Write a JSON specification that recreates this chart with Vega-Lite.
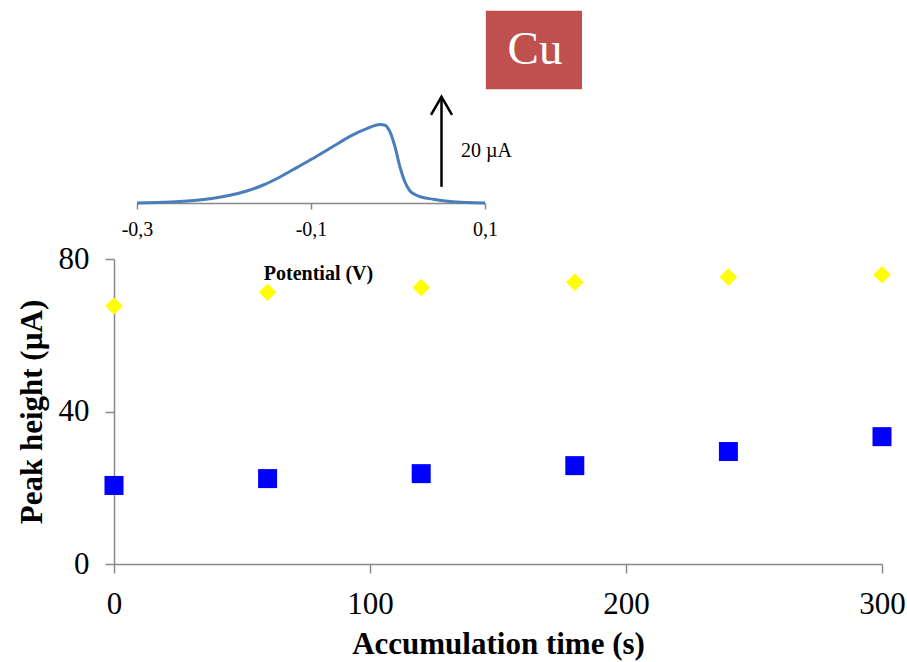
{
  "$schema": "https://vega.github.io/schema/vega-lite/v6.json",
  "width": 768,
  "height": 305,
  "autosize": {"type": "none"},
  "padding": {"left": 114, "top": 259, "right": 25, "bottom": 98},
  "background": "white",
  "config": {"view": {"stroke": null}, "font": "Liberation Serif"},
  "datasets": {
    "points": [
      {"t": 0, "squares": 20.6, "diamonds": 67.7},
      {"t": 60, "squares": 22.4, "diamonds": 71.3},
      {"t": 120, "squares": 23.7, "diamonds": 72.5},
      {"t": 180, "squares": 25.8, "diamonds": 73.9},
      {"t": 240, "squares": 29.5, "diamonds": 75.3},
      {"t": 300, "squares": 33.4, "diamonds": 75.9}
    ],
    "curve": [
      {"E": -0.3, "I": 0},
      {"E": -0.2698, "I": 0.16},
      {"E": -0.2314, "I": 0.6},
      {"E": -0.2123, "I": 1.04},
      {"E": -0.1931, "I": 1.71},
      {"E": -0.1739, "I": 2.67},
      {"E": -0.1548, "I": 4.0},
      {"E": -0.1356, "I": 5.78},
      {"E": -0.1164, "I": 7.87},
      {"E": -0.0934, "I": 10.4},
      {"E": -0.0744, "I": 12.6},
      {"E": -0.0552, "I": 14.82},
      {"E": -0.036, "I": 16.53},
      {"E": -0.0207, "I": 17.42},
      {"E": -0.0149, "I": 17.27},
      {"E": -0.0092, "I": 15.78},
      {"E": -0.0034, "I": 12.44},
      {"E": 0.0023, "I": 8.0},
      {"E": 0.008, "I": 4.67},
      {"E": 0.0138, "I": 2.67},
      {"E": 0.0215, "I": 1.71},
      {"E": 0.0406, "I": 0.82},
      {"E": 0.0598, "I": 0.31},
      {"E": 0.079, "I": 0.09},
      {"E": 0.1, "I": 0}
    ],
    "arrow": [{"E": 0.05, "I": 3.6, "I2": 23.6, "label": "20 µA", "Elabel": 0.0724, "Ilabel": 11.6}],
    "box": [{"E": 0.101, "E2": 0.2115, "I": 25.3, "I2": 42.7, "Ec": 0.1575, "Ic": 34.0, "label": "Cu"}]
  },
  "layer": [
    {
      "data": {"name": "points"},
      "encoding": {
        "x": {
          "field": "t", "type": "quantitative",
          "scale": {"domain": [0, 300], "nice": false},
          "axis": {
            "title": "Accumulation time (s)", "values": [0, 100, 200, 300],
            "grid": false, "domainColor": "#898989", "domainWidth": 1.5,
            "tickColor": "#898989", "tickWidth": 1.5, "tickSize": 9,
            "labelFont": "Liberation Serif", "labelFontSize": 31, "labelColor": "black",
            "labelPadding": 16, "labelFlush": false, "labelOverlap": false,
            "titleFont": "Liberation Serif", "titleFontSize": 31, "titleFontWeight": "bold",
            "titleColor": "black", "titlePadding": 10
          }
        }
      },
      "layer": [
        {
          "mark": {"type": "point", "shape": "square", "filled": true, "color": "#0000FF", "size": 361, "opacity": 1},
          "encoding": {
            "y": {
              "field": "squares", "type": "quantitative",
              "scale": {"domain": [0, 80], "nice": false},
              "axis": {
                "title": "Peak height (µA)", "values": [0, 40, 80],
                "grid": false, "domainColor": "#898989", "domainWidth": 1.5,
                "tickColor": "#898989", "tickWidth": 1.5, "tickSize": 9,
                "labelFont": "Liberation Serif", "labelFontSize": 31, "labelColor": "black",
                "labelPadding": 16, "labelFlush": false, "labelOverlap": false,
                "titleFont": "Liberation Serif", "titleFontSize": 31, "titleFontWeight": "bold",
                "titleColor": "black", "titlePadding": 10
              }
            }
          }
        },
        {
          "mark": {"type": "point", "shape": "diamond", "filled": true, "color": "#FFFF00", "size": 306, "opacity": 1},
          "encoding": {
            "y": {"field": "diamonds", "type": "quantitative"}
          }
        }
      ]
    },
    {
      "encoding": {
        "x": {
          "type": "quantitative",
          "scale": {"domain": [-0.3, 0.1], "range": [23, 371], "nice": false, "zero": false},
          "axis": {
            "orient": "bottom", "offset": -361, "title": "Potential (V)",
            "values": [-0.3, -0.1, 0.1], "grid": false,
            "domainColor": "#898989", "domainWidth": 1.5,
            "tickColor": "#898989", "tickWidth": 1.5, "tickSize": 6,
            "labelExpr": "(datum.value < 0 ? '-' : '') + replace(format(abs(datum.value), '.1f'), '.', ',')",
            "labelFont": "Liberation Serif", "labelFontSize": 20, "labelColor": "black",
            "labelPadding": 10, "labelFlush": false, "labelOverlap": false,
            "titleFont": "Liberation Serif", "titleFontSize": 20, "titleFontWeight": "bold",
            "titleColor": "black", "titlePadding": 24, "titleX": 204
          }
        },
        "y": {
          "type": "quantitative",
          "scale": {"domain": [0, 40], "range": [-56, -236], "nice": false, "zero": false},
          "axis": null
        }
      },
      "layer": [
        {
          "data": {"name": "curve"},
          "mark": {"type": "line", "color": "#4A7EBB", "strokeWidth": 3, "interpolate": "monotone"},
          "encoding": {"x": {"field": "E"}, "y": {"field": "I"}}
        },
        {
          "data": {"name": "arrow"},
          "mark": {"type": "rule", "color": "black", "strokeWidth": 2.5},
          "encoding": {"x": {"field": "E"}, "y": {"field": "I"}, "y2": {"field": "I2"}}
        },
        {
          "data": {"name": "arrow"},
          "mark": {"type": "point", "shape": "M-1.05,1.8L0,0L1.05,1.8", "filled": false, "stroke": "black", "strokeWidth": 2.5, "size": 400, "opacity": 1},
          "encoding": {"x": {"field": "E"}, "y": {"field": "I2"}}
        },
        {
          "data": {"name": "arrow"},
          "mark": {"type": "text", "align": "left", "baseline": "middle", "font": "Liberation Serif", "fontSize": 20, "color": "black"},
          "encoding": {"x": {"field": "Elabel"}, "y": {"field": "Ilabel"}, "text": {"field": "label"}}
        },
        {
          "data": {"name": "box"},
          "mark": {"type": "rect", "color": "#C0504D", "opacity": 1},
          "encoding": {"x": {"field": "E"}, "x2": {"field": "E2"}, "y": {"field": "I"}, "y2": {"field": "I2"}}
        },
        {
          "data": {"name": "box"},
          "mark": {"type": "text", "align": "center", "baseline": "middle", "font": "Liberation Serif", "fontSize": 47, "color": "white"},
          "encoding": {"x": {"field": "Ec"}, "y": {"field": "Ic"}, "text": {"field": "label"}}
        }
      ]
    }
  ],
  "resolve": {"scale": {"x": "independent", "y": "independent"}, "axis": {"x": "independent", "y": "independent"}}
}
